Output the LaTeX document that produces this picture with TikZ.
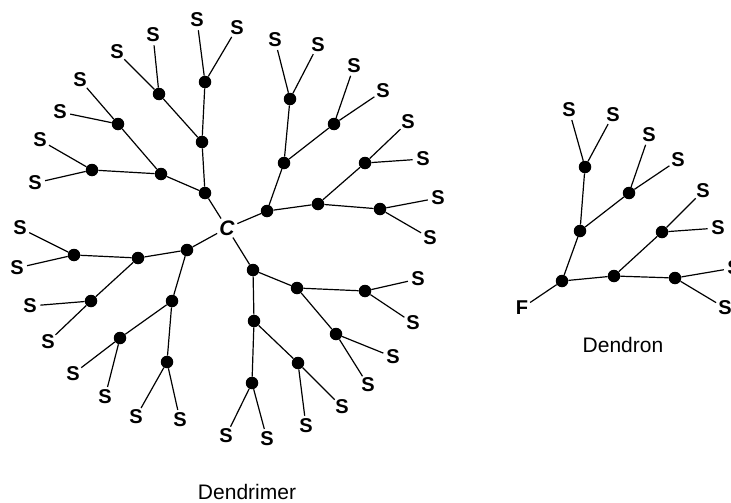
\documentclass[tikz,border=0pt]{standalone}
\usepackage{fontspec}
\setmainfont{Liberation Sans}
\begin{document}
\begin{tikzpicture}[x=1pt,y=-1pt,
  dot/.style={circle,fill=black,inner sep=0pt,minimum size=12.5pt},
  slab/.style={circle,inner sep=0.3pt,font=\bfseries\fontsize{20}{20}\selectfont},
  edge/.style={line width=1.2pt},
  title/.style={font=\fontsize{21}{24}\selectfont}]
\useasboundingbox (0,0) rectangle (731,503);
% centre
\node[slab,font=\bfseries\itshape\fontsize{21}{21}\selectfont] (C) at (227,228) {C};
% branch points
\foreach \n/\x/\y in {
  a/205/193, a1/202/142, a2/161/174, a11/205/82, a12/159/94, a21/118/124, a22/92/170,
  b/267/211, b1/284/163, b2/318/204, b11/290/99, b12/334/124, b21/365/163, b22/380/209,
  l/187/250, l1/138/258, l2/172/301, l11/74/255, l12/91/301, l21/120/338, l22/167/362,
  d/253/270, d1/297/288, d2/254/321, d11/365/291, d12/336/334, d21/298/363, d22/252/383,
  r/562/281, r1/580/231, r2/614/276, r11/585/167, r12/629/193, r21/662/232, r22/675/278}
  \node[dot] (\n) at (\x,\y) {};
% end groups
\foreach \n/\x/\y in {
  a11s1/197/20, a11s2/237/28, a12s1/153/35, a12s2/117/52,
  a21s1/80/80, a21s2/60/112, a22s1/40/140, a22s2/35/183,
  b11s1/275/40, b11s2/318/45, b12s1/354/66, b12s2/383/91,
  b21s1/408/122, b21s2/423/159, b22s1/438/198, b22s2/430/238,
  l11s1/20/228, l11s2/17/268, l12s1/30/306, l12s2/48/342,
  l21s1/73/374, l21s2/105/397, l22s1/136/417, l22s2/180/420,
  d11s1/418/279, d11s2/413/323, d12s1/393/357, d12s2/368/385,
  d21s1/342/407, d21s2/306/426, d22s1/226/436, d22s2/267/439,
  r11s1/569/110, r11s2/613/115, r12s1/649/135, r12s2/678/160,
  r21s1/703/191, r21s2/718/228, r22s1/734/268, r22s2/725/308}
  \node[slab] (\n) at (\x,\y) {S};
\node[slab] (F) at (522,308) {F};
% connectors
\foreach \p/\c in {
  C/a, C/b, C/l, C/d,
  a/a1, a/a2, a1/a11, a1/a12, a2/a21, a2/a22,
  b/b1, b/b2, b1/b11, b1/b12, b2/b21, b2/b22,
  l/l1, l/l2, l1/l11, l1/l12, l2/l21, l2/l22,
  d/d1, d/d2, d1/d11, d1/d12, d2/d21, d2/d22,
  F/r, r/r1, r/r2, r1/r11, r1/r12, r2/r21, r2/r22}
  \draw[edge] (\p) -- (\c);
\foreach \p in {a11,a12,a21,a22,b11,b12,b21,b22,l11,l12,l21,l22,d11,d12,d21,d22,r11,r12,r21,r22}
  \draw[edge] (\p) -- (\p s1) (\p) -- (\p s2);
% titles
\node[title] (dendron) at (623,345) {Dendron};
\node[title] (dendrimer) at (247,492) {Dendrimer};
\end{tikzpicture}
\end{document}
